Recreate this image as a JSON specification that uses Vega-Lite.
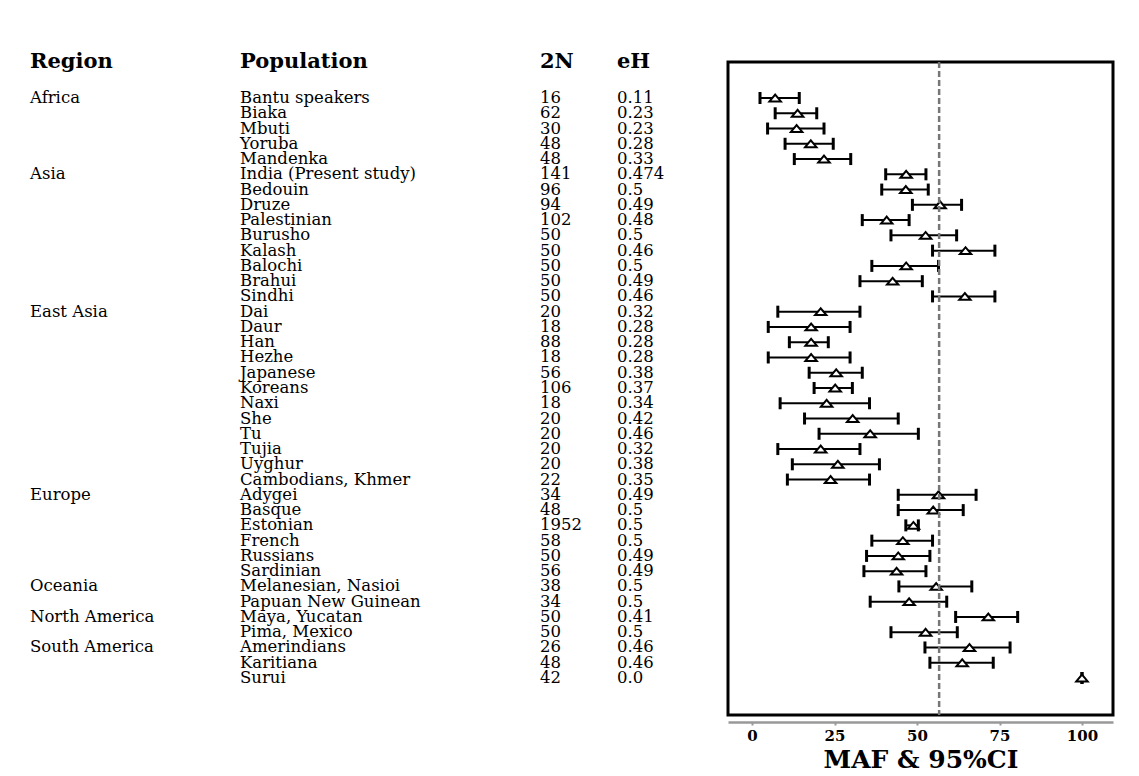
{
  "$schema": "https://vega.github.io/schema/vega-lite/v6.json",
  "background": "white",
  "padding": {"left": 30, "top": 51, "right": 20, "bottom": 0},
  "bounds": "flush",
  "spacing": 0,
  "config": {
    "view": {"stroke": null},
    "font": "DejaVu Serif",
    "text": {"font": "DejaVu Serif", "fontSize": 16.5, "color": "black"},
    "title": {"font": "DejaVu Serif", "fontWeight": "bold", "fontSize": 21, "anchor": "start", "baseline": "middle", "offset": -10, "frame": "group", "color": "black"}
  },
  "data": {
    "values": [
      {"Region": "Africa", "Population": "Bantu speakers", "N2": 16, "eH": "0.11", "MAF": 7, "lo": 2.4, "hi": 14.3},
      {"Region": "Africa", "Population": "Biaka", "N2": 62, "eH": "0.23", "MAF": 13.8, "lo": 7, "hi": 19.6},
      {"Region": "Africa", "Population": "Mbuti", "N2": 30, "eH": "0.23", "MAF": 13.5, "lo": 4.7, "hi": 21.8},
      {"Region": "Africa", "Population": "Yoruba", "N2": 48, "eH": "0.28", "MAF": 17.8, "lo": 10, "hi": 24.6},
      {"Region": "Africa", "Population": "Mandenka", "N2": 48, "eH": "0.33", "MAF": 21.8, "lo": 12.8, "hi": 29.9},
      {"Region": "Asia", "Population": "India (Present study)", "N2": 141, "eH": "0.474", "MAF": 46.7, "lo": 40.5, "hi": 52.7},
      {"Region": "Asia", "Population": "Bedouin", "N2": 96, "eH": "0.5", "MAF": 46.6, "lo": 39.3, "hi": 53.4},
      {"Region": "Asia", "Population": "Druze", "N2": 94, "eH": "0.49", "MAF": 57, "lo": 48.6, "hi": 63.5},
      {"Region": "Asia", "Population": "Palestinian", "N2": 102, "eH": "0.48", "MAF": 40.8, "lo": 33.4, "hi": 47.6},
      {"Region": "Asia", "Population": "Burusho", "N2": 50, "eH": "0.5", "MAF": 52.6, "lo": 42.1, "hi": 62},
      {"Region": "Asia", "Population": "Kalash", "N2": 50, "eH": "0.46", "MAF": 64.7, "lo": 54.7, "hi": 73.6},
      {"Region": "Asia", "Population": "Balochi", "N2": 50, "eH": "0.5", "MAF": 46.7, "lo": 36.3, "hi": 56.5},
      {"Region": "Asia", "Population": "Brahui", "N2": 50, "eH": "0.49", "MAF": 42.6, "lo": 32.7, "hi": 51.6},
      {"Region": "Asia", "Population": "Sindhi", "N2": 50, "eH": "0.46", "MAF": 64.5, "lo": 54.7, "hi": 73.6},
      {"Region": "East Asia", "Population": "Dai", "N2": 20, "eH": "0.32", "MAF": 20.8, "lo": 7.8, "hi": 32.7},
      {"Region": "East Asia", "Population": "Daur", "N2": 18, "eH": "0.28", "MAF": 17.9, "lo": 4.9, "hi": 29.7},
      {"Region": "East Asia", "Population": "Han", "N2": 88, "eH": "0.28", "MAF": 17.9, "lo": 11.3, "hi": 23.1},
      {"Region": "East Asia", "Population": "Hezhe", "N2": 18, "eH": "0.28", "MAF": 17.9, "lo": 4.9, "hi": 29.7},
      {"Region": "East Asia", "Population": "Japanese", "N2": 56, "eH": "0.38", "MAF": 25.5, "lo": 17.3, "hi": 33.4},
      {"Region": "East Asia", "Population": "Koreans", "N2": 106, "eH": "0.37", "MAF": 25.2, "lo": 18.8, "hi": 30.4},
      {"Region": "East Asia", "Population": "Naxi", "N2": 18, "eH": "0.34", "MAF": 22.6, "lo": 8.5, "hi": 35.6},
      {"Region": "East Asia", "Population": "She", "N2": 20, "eH": "0.42", "MAF": 30.5, "lo": 15.9, "hi": 44.3},
      {"Region": "East Asia", "Population": "Tu", "N2": 20, "eH": "0.46", "MAF": 35.8, "lo": 20.3, "hi": 50.4},
      {"Region": "East Asia", "Population": "Tujia", "N2": 20, "eH": "0.32", "MAF": 20.8, "lo": 7.8, "hi": 32.7},
      {"Region": "East Asia", "Population": "Uyghur", "N2": 20, "eH": "0.38", "MAF": 26, "lo": 12.2, "hi": 38.6},
      {"Region": "East Asia", "Population": "Cambodians, Khmer", "N2": 22, "eH": "0.35", "MAF": 23.8, "lo": 10.7, "hi": 35.6},
      {"Region": "Europe", "Population": "Adygei", "N2": 34, "eH": "0.49", "MAF": 56.5, "lo": 44.3, "hi": 67.9},
      {"Region": "Europe", "Population": "Basque", "N2": 48, "eH": "0.5", "MAF": 54.9, "lo": 44.3, "hi": 64},
      {"Region": "Europe", "Population": "Estonian", "N2": 1952, "eH": "0.5", "MAF": 48.9, "lo": 46.6, "hi": 50.4},
      {"Region": "Europe", "Population": "French", "N2": 58, "eH": "0.5", "MAF": 45.7, "lo": 36.3, "hi": 54.7},
      {"Region": "Europe", "Population": "Russians", "N2": 50, "eH": "0.49", "MAF": 44.3, "lo": 34.7, "hi": 53.9},
      {"Region": "Europe", "Population": "Sardinian", "N2": 56, "eH": "0.49", "MAF": 43.8, "lo": 33.9, "hi": 52.7},
      {"Region": "Oceania", "Population": "Melanesian, Nasioi", "N2": 38, "eH": "0.5", "MAF": 55.8, "lo": 44.5, "hi": 66.6},
      {"Region": "Oceania", "Population": "Papuan New Guinean", "N2": 34, "eH": "0.5", "MAF": 47.6, "lo": 35.8, "hi": 59},
      {"Region": "North America", "Population": "Maya, Yucatan", "N2": 50, "eH": "0.41", "MAF": 71.6, "lo": 61.7, "hi": 80.5},
      {"Region": "North America", "Population": "Pima, Mexico", "N2": 50, "eH": "0.5", "MAF": 52.6, "lo": 42.1, "hi": 62.2},
      {"Region": "South America", "Population": "Amerindians", "N2": 26, "eH": "0.46", "MAF": 65.9, "lo": 52.4, "hi": 78.2},
      {"Region": "South America", "Population": "Karitiana", "N2": 48, "eH": "0.46", "MAF": 63.7, "lo": 53.9, "hi": 73.1},
      {"Region": "South America", "Population": "Surui", "N2": 42, "eH": "0.0", "MAF": 100, "lo": 100, "hi": 100}
    ]
  },
  "transform": [{"window": [{"op": "row_number", "as": "rn"}], "groupby": ["Region"]}],
  "hconcat": [
    {
      "width": 210, "height": 653,
      "title": {"text": "Region"},
      "mark": {"type": "text", "align": "left", "baseline": "middle"},
      "encoding": {
        "x": {"value": 0},
        "y": {"field": "Population", "type": "nominal", "sort": null, "axis": null, "scale": {"type": "point", "padding": 0, "range": [36, 616]}},
        "text": {"condition": {"test": "datum.rn === 1", "field": "Region"}, "value": ""}
      }
    },
    {
      "width": 300, "height": 653,
      "title": {"text": "Population"},
      "mark": {"type": "text", "align": "left", "baseline": "middle"},
      "encoding": {
        "x": {"value": 0},
        "y": {"field": "Population", "type": "nominal", "sort": null, "axis": null, "scale": {"type": "point", "padding": 0, "range": [36, 616]}},
        "text": {"field": "Population"}
      }
    },
    {
      "width": 77, "height": 653,
      "title": {"text": "2N"},
      "mark": {"type": "text", "align": "left", "baseline": "middle"},
      "encoding": {
        "x": {"value": 0},
        "y": {"field": "Population", "type": "nominal", "sort": null, "axis": null, "scale": {"type": "point", "padding": 0, "range": [36, 616]}},
        "text": {"field": "N2"}
      }
    },
    {
      "width": 111, "height": 653,
      "title": {"text": "eH"},
      "mark": {"type": "text", "align": "left", "baseline": "middle"},
      "encoding": {
        "x": {"value": 0},
        "y": {"field": "Population", "type": "nominal", "sort": null, "axis": null, "scale": {"type": "point", "padding": 0, "range": [36, 616]}},
        "text": {"field": "eH"}
      }
    },
    {
      "width": 385, "height": 653,
      "view": {"stroke": "black", "strokeWidth": 3},
      "encoding": {
        "y": {"field": "Population", "type": "nominal", "sort": null, "axis": null, "scale": {"type": "point", "padding": 0, "range": [36, 616]}}
      },
      "layer": [
        {
          "mark": {"type": "rule", "color": "black", "strokeWidth": 2},
          "encoding": {
            "x": {"field": "lo", "type": "quantitative",
              "scale": {"domain": [-7.3, 109.4], "nice": false, "zero": false},
              "axis": {"values": [0, 25, 50, 75, 100], "offset": 7, "grid": false,
                "domainColor": "#999", "domainWidth": 2.5, "tickColor": "#999", "tickWidth": 2, "tickSize": 3,
                "labelFont": "DejaVu Serif", "labelFontWeight": "bold", "labelFontSize": 15, "labelColor": "black", "labelPadding": 3,
                "title": "MAF & 95%CI", "titleFont": "DejaVu Serif", "titleFontWeight": "bold", "titleFontSize": 25, "titleColor": "black", "titlePadding": 4}},
            "x2": {"field": "hi"}
          }
        },
        {
          "mark": {"type": "tick", "orient": "vertical", "color": "black", "thickness": 3, "size": 12, "opacity": 1},
          "encoding": {"x": {"field": "lo", "type": "quantitative"}}
        },
        {
          "mark": {"type": "tick", "orient": "vertical", "color": "black", "thickness": 3, "size": 12, "opacity": 1},
          "encoding": {"x": {"field": "hi", "type": "quantitative"}}
        },
        {
          "mark": {"type": "point", "shape": "M-1,0.6L0,-0.6L1,0.6Z", "filled": true, "fill": "white", "stroke": "black", "strokeWidth": 2, "size": 130, "opacity": 1},
          "encoding": {"x": {"field": "MAF", "type": "quantitative"}}
        },
        {
          "data": {"values": [{"ref": 56.7}]},
          "mark": {"type": "rule", "color": "#777", "strokeDash": [6, 3], "strokeWidth": 2.5},
          "encoding": {"x": {"field": "ref", "type": "quantitative"}, "y": null}
        }
      ]
    }
  ]
}
